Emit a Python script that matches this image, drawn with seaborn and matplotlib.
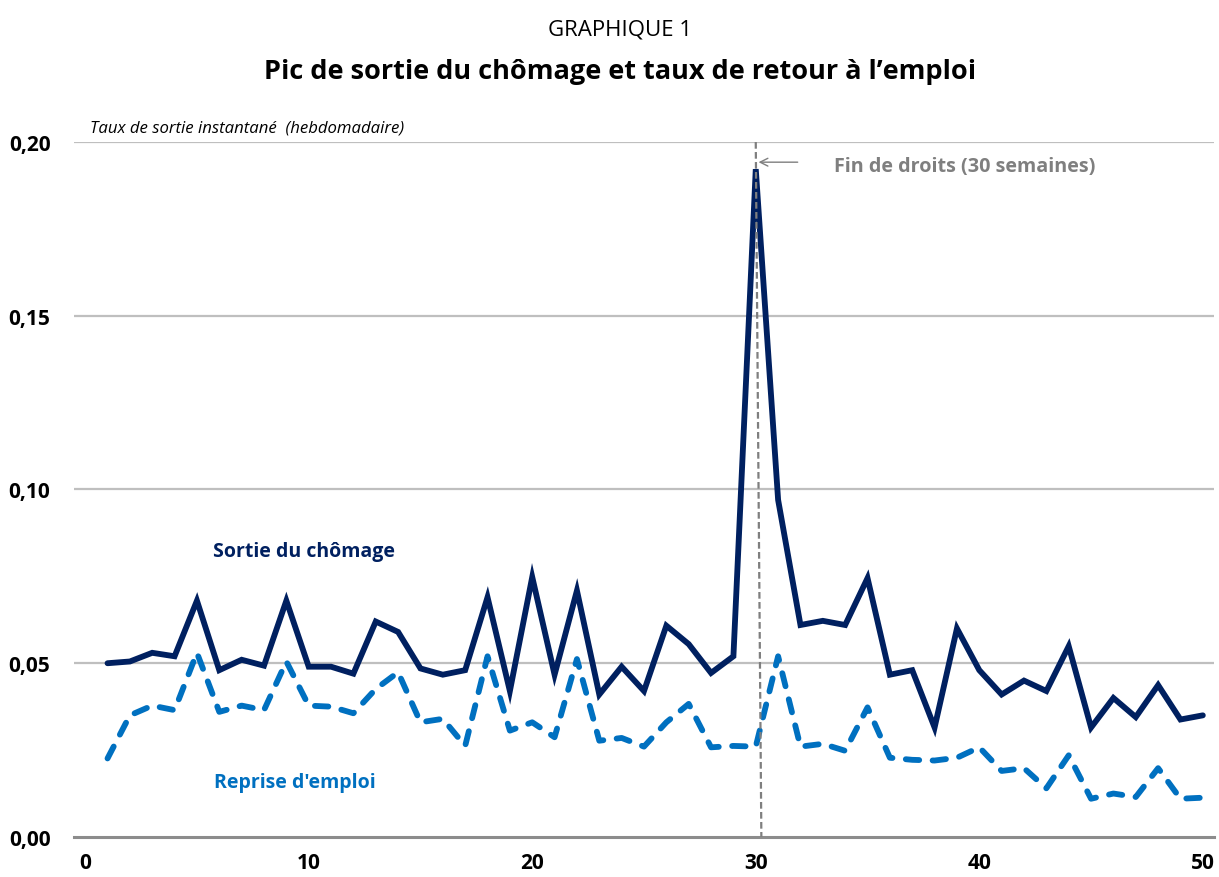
import pandas as pd
import matplotlib
matplotlib.use('Agg')
import matplotlib.pyplot as plt
import seaborn as sns

# données (taux hebdomadaire)
semaines = list(range(1, 51))
sortie_chomage = [0.050, 0.0505, 0.053, 0.052, 0.068, 0.048, 0.051, 0.0493, 0.068, 0.049,
                  0.049, 0.047, 0.062, 0.059, 0.0485, 0.0467, 0.048, 0.069, 0.042, 0.0748,
                  0.0467, 0.0709, 0.041, 0.049, 0.042, 0.0608, 0.0555, 0.0472, 0.052, 0.1922,
                  0.097, 0.061, 0.0622, 0.061, 0.0745, 0.0467, 0.048, 0.0315, 0.060, 0.048,
                  0.041, 0.045, 0.042, 0.0549, 0.0315, 0.040, 0.0345, 0.0437, 0.0338, 0.035]
reprise_emploi = [0.0226, 0.035, 0.0378, 0.0365, 0.053, 0.036, 0.0378, 0.0365, 0.0505, 0.0378,
                  0.0375, 0.0356, 0.0426, 0.0474, 0.033, 0.034, 0.0262, 0.052, 0.0306, 0.033,
                  0.0287, 0.0512, 0.0277, 0.0285, 0.026, 0.033, 0.0383, 0.0258, 0.0262, 0.026,
                  0.052, 0.026, 0.0268, 0.0248, 0.0373, 0.0228, 0.0222, 0.022, 0.0228, 0.0258,
                  0.019, 0.0198, 0.014, 0.0235, 0.011, 0.0125, 0.0115, 0.0198, 0.011, 0.0113]
x_ticks = [0, 10, 20, 30, 40, 50]
y_ticks = [0.00, 0.05, 0.10, 0.15, 0.20]
fin_droits = 30

NAVY = '#002060'
BLEU = '#0070C0'
GRIS = '#7f7f7f'

sns.set_theme(style='white')
plt.rcParams['font.family'] = ['Open Sans', 'DejaVu Sans']
plt.rcParams['text.color'] = 'black'
plt.rcParams['xtick.color'] = 'black'
plt.rcParams['ytick.color'] = 'black'

df = pd.DataFrame({'semaine': semaines, 'sortie': sortie_chomage, 'reprise': reprise_emploi})

fig = plt.figure(figsize=(12.19, 8.78), dpi=100)
ax = fig.add_axes([0.0607, 0.0456, 0.9352, 0.7915])

# grille horizontale
for yv in y_ticks[1:]:
    ax.axhline(yv, color='#bfbfbf', lw=1.6, zorder=0)

sns.lineplot(data=df, x='semaine', y='sortie', ax=ax, color=NAVY, lw=4.2,
             solid_joinstyle='miter', zorder=3)
sns.lineplot(data=df, x='semaine', y='reprise', ax=ax, color=BLEU, lw=4.2,
             dashes=False, zorder=3)
ax.lines[-1].set_dashes((2.3, 2.3))
ax.lines[-1].set_dash_capstyle('round')
ax.lines[-1].set_dash_joinstyle('round')

# ligne verticale : fin de droits
ax.plot([fin_droits, fin_droits + 0.25], [0.20, 0.0], color=GRIS, lw=1.6,
        ls=(0, (3, 1.5)), zorder=4)
ax.annotate('', xy=(fin_droits, 0.1942), xytext=(fin_droits + 2.0, 0.1942),
            arrowprops=dict(arrowstyle='->', color=GRIS, lw=1.0, mutation_scale=14))
ax.text(fin_droits + 3.5, 0.1931, 'Fin de droits (30 semaines)', color=GRIS,
        fontsize=14.2, fontweight='bold', va='center', ha='left')

ax.text(5.72, 0.0823, 'Sortie du chômage', color=NAVY, fontsize=14,
        fontweight='bold', va='center', ha='left')
ax.text(5.77, 0.0158, "Reprise d'emploi", color=BLEU, fontsize=14,
        fontweight='bold', va='center', ha='left')
ax.text(0.2, 0.2043, 'Taux de sortie instantané  (hebdomadaire)', fontsize=12.1,
        style='italic', va='center', ha='left', color='black', clip_on=False)

ax.set_xlim(-0.5, 50.5)
ax.set_ylim(0, 0.20)
ax.set_xticks(x_ticks)
ax.set_xticklabels([str(v) for v in x_ticks])
ax.set_yticks(y_ticks)
ax.set_yticklabels([f'{v:.2f}'.replace('.', ',') for v in y_ticks])
ax.tick_params(axis='both', length=0, labelsize=15, labelcolor='black')
ax.tick_params(axis='y', pad=17)
ax.tick_params(axis='x', pad=11)
for lab in ax.get_xticklabels() + ax.get_yticklabels():
    lab.set_fontweight('bold')
ax.set_xlabel('')
ax.set_ylabel('')
for s in ['top', 'right', 'left']:
    ax.spines[s].set_visible(False)
ax.spines['bottom'].set_color('#8c8c8c')
ax.spines['bottom'].set_linewidth(2.2)

fig.text(0.5086, 0.9658, 'GRAPHIQUE 1', ha='center', va='center', fontsize=16)
fig.text(0.5086, 0.918, 'Pic de sortie du chômage et taux de retour à l’emploi',
         ha='center', va='center', fontsize=19.5, fontweight='bold')

fig.savefig('out.png', dpi=100)
